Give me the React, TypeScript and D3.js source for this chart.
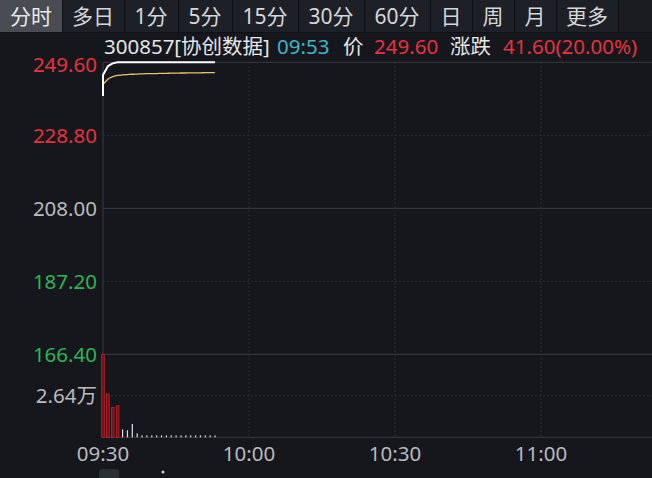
import * as d3 from 'd3';
import React, { useEffect } from 'react';

// toolbar tabs
const tabLabels = ['分时', '多日', '1分', '5分', '15分', '30分', '60分', '日', '周', '月', '更多'];

// price axis ticks (left), with colour by side of prev close 208.00
const priceTicks = [249.6, 228.8, 208.0, 187.2, 166.4];
const prevClose = 208.0;
const volTick = 2.64; // 万

const timeTicks = ['09:30', '10:00', '10:30', '11:00'];

// minute data, 09:30 .. 09:53
const openPrice = 240.0;
const prices = [
  246.0, 248.5, 249.3, 249.6, 249.6, 249.6, 249.6, 249.6, 249.6, 249.6, 249.6, 249.6,
  249.6, 249.6, 249.6, 249.6, 249.6, 249.6, 249.6, 249.6, 249.6, 249.6, 249.6, 249.6,
];
const avgPrices = [
  243.3, 244.8, 245.5, 245.9, 246.0, 246.1, 246.2, 246.25, 246.3, 246.35, 246.4, 246.4,
  246.45, 246.45, 246.5, 246.5, 246.55, 246.55, 246.6, 246.6, 246.6, 246.65, 246.65, 246.65,
];
// volume in 万 lots
const volumes = [
  5.28, 2.75, 1.9, 2.0, 0.5, 0.45, 0.85, 0.25, 0.12, 0.12, 0.12, 0.12,
  0.12, 0.12, 0.12, 0.12, 0.12, 0.12, 0.12, 0.12, 0.12, 0.12, 0.12, 0.12,
];

const header = {
  code: '300857[协创数据]',
  time: '09:53',
  priceLabel: '价',
  price: '249.60',
  chgLabel: '涨跌',
  chg: '41.60(20.00%)',
};

const W = 652;
const H = 478;
const FONT = '"Noto Sans", "Noto Sans CJK SC", sans-serif';
const FS = 20.5;
const RED = '#e5323e';
const GREEN = '#2db553';
const GRAY = '#b9bbbf';
const GRID = '#3a3d44';
const DASH = '#2e3138';

const toMin = (t: string) => {
  const [h, m] = t.split(':').map(Number);
  return h * 60 + m - (9 * 60 + 30);
};

const tabWidth = (s: string) => {
  let w = 22;
  for (const ch of s) w += /[0-9]/.test(ch) ? 12 : 20;
  return w;
};

const App: React.FC = () => {
  useEffect(() => {
    document.body.style.margin = '0';
    document.body.style.background = '#15171c';
  }, []);

  const left = 103;
  const x = d3.scaleLinear().domain([0, 30]).range([left, 249]);
  const yP = d3.scaleLinear().domain([166.4, 249.6]).range([354.3, 62.3]);
  const yV = d3.scaleLinear().domain([0, 5.28]).range([437.3, 354.3]);

  const pricePts: [number, number][] = [[0, openPrice], ...prices.map((p, i) => [i, p] as [number, number])];
  const priceLine = d3
    .line<[number, number]>()
    .x((d) => x(d[0]))
    .y((d) => yP(d[1]));
  const avgLine = d3
    .line<number>()
    .x((_, i) => x(i))
    .y((d) => yP(d))
    .curve(d3.curveMonotoneX);

  // tabs layout
  let acc = 0;
  const tabs = tabLabels.map((t) => {
    const w = tabWidth(t);
    const r = { t, x: acc, w };
    acc += w;
    return r;
  });

  const tickColor = (v: number) => (v > prevClose ? RED : v < prevClose ? GREEN : GRAY);

  return (
    <svg
      width={W}
      height={H}
      style={{ display: 'block', background: '#15171c', fontFamily: FONT }}
    >
      {/* toolbar */}
      <rect x={0} y={0} width={W} height={33} fill="#0f1013" />
      {tabs.map((d, i) => (
        <g key={d.t}>
          <rect
            x={d.x + (i === 0 ? 0 : 1)}
            y={0}
            width={d.w - (i === 0 ? 0 : 1)}
            height={32}
            fill={i === 0 ? '#4a4c53' : '#1d2026'}
          />
          <text
            x={d.x + d.w / 2}
            y={24}
            textAnchor="middle"
            fontSize={21}
            fill={i === 0 ? '#e8e8e8' : '#d6d7d9'}
          >
            {d.t}
          </text>
        </g>
      ))}
      <rect x={acc + 1} y={0} width={W - acc - 1} height={32} fill="#1a1c21" />

      {/* header info */}
      <g fontSize={FS}>
        <text x={104} y={54} fill="#e6e6e6">{header.code}</text>
        <text x={277} y={54} fill="#3bb8c8">{header.time}</text>
        <text x={343} y={54} fill="#e6e6e6">{header.priceLabel}</text>
        <text x={374} y={54} fill={RED}>{header.price}</text>
        <text x={450} y={54} fill="#e6e6e6">{header.chgLabel}</text>
        <text x={503} y={54} fill={RED}>{header.chg}</text>
      </g>

      {/* grid */}
      {priceTicks.map((v) => {
        const solid = v === prevClose || v === priceTicks[priceTicks.length - 1] || v === priceTicks[0];
        return (
          <line
            key={v}
            x1={left}
            x2={W}
            y1={yP(v)}
            y2={yP(v)}
            stroke={solid ? GRID : DASH}
            strokeDasharray={solid ? undefined : '2,2'}
          />
        );
      })}
      <line x1={left} x2={W} y1={yV(volTick)} y2={yV(volTick)} stroke={DASH} strokeDasharray="2,2" />
      <line x1={left} x2={W} y1={yV(0)} y2={yV(0)} stroke={GRID} />
      {timeTicks.slice(1).map((t) => (
        <line
          key={t}
          x1={x(toMin(t))}
          x2={x(toMin(t))}
          y1={yP(249.6)}
          y2={yV(0)}
          stroke={DASH}
          strokeDasharray="2,2"
        />
      ))}
      <line x1={left} x2={left} y1={yP(249.6)} y2={yV(0)} stroke={GRID} />

      {/* price axis labels */}
      {priceTicks.map((v) => (
        <text
          key={v}
          x={97}
          y={Math.max(yP(v) + 7.5, 71.5)}
          textAnchor="end"
          fontSize={FS}
          fill={tickColor(v)}
        >
          {v.toFixed(2)}
        </text>
      ))}
      <text x={97} y={yV(volTick) + 7.5} textAnchor="end" fontSize={FS} fill={GRAY}>
        {volTick.toFixed(2)}万
      </text>

      {/* time axis labels */}
      {timeTicks.map((t) => (
        <text key={t} x={x(toMin(t))} y={461} textAnchor="middle" fontSize={FS} fill={GRAY}>
          {t}
        </text>
      ))}

      {/* volume bars */}
      {volumes.map((v, i) => {
        const up = i === 0 ? prices[0] > openPrice : prices[i] > prices[i - 1];
        return up ? (
          <rect
            key={i}
            x={x(i) - 1.3}
            y={yV(v)}
            width={2.6}
            height={yV(0) - yV(v)}
            fill="#6e1217"
            stroke="#c2242d"
            strokeWidth={0.8}
          />
        ) : (
          <rect key={i} x={x(i) - 0.5} y={yV(v)} width={1.2} height={yV(0) - yV(v)} fill="#e0e0e0" />
        );
      })}

      {/* lines */}
      <path d={avgLine(avgPrices) || ''} fill="none" stroke="#e8c46a" strokeWidth={1.3} />
      <path
        d={priceLine(pricePts) || ''}
        fill="none"
        stroke="#ffffff"
        strokeWidth={2}
        strokeLinejoin="round"
      />

      {/* bottom scroller remnant */}
      <rect x={99} y={469} width={20} height={12} rx={3} fill="#2a2d33" />
      <circle cx={163} cy={472} r={1.5} fill="#d0d0d0" />
    </svg>
  );
};

export default App;
